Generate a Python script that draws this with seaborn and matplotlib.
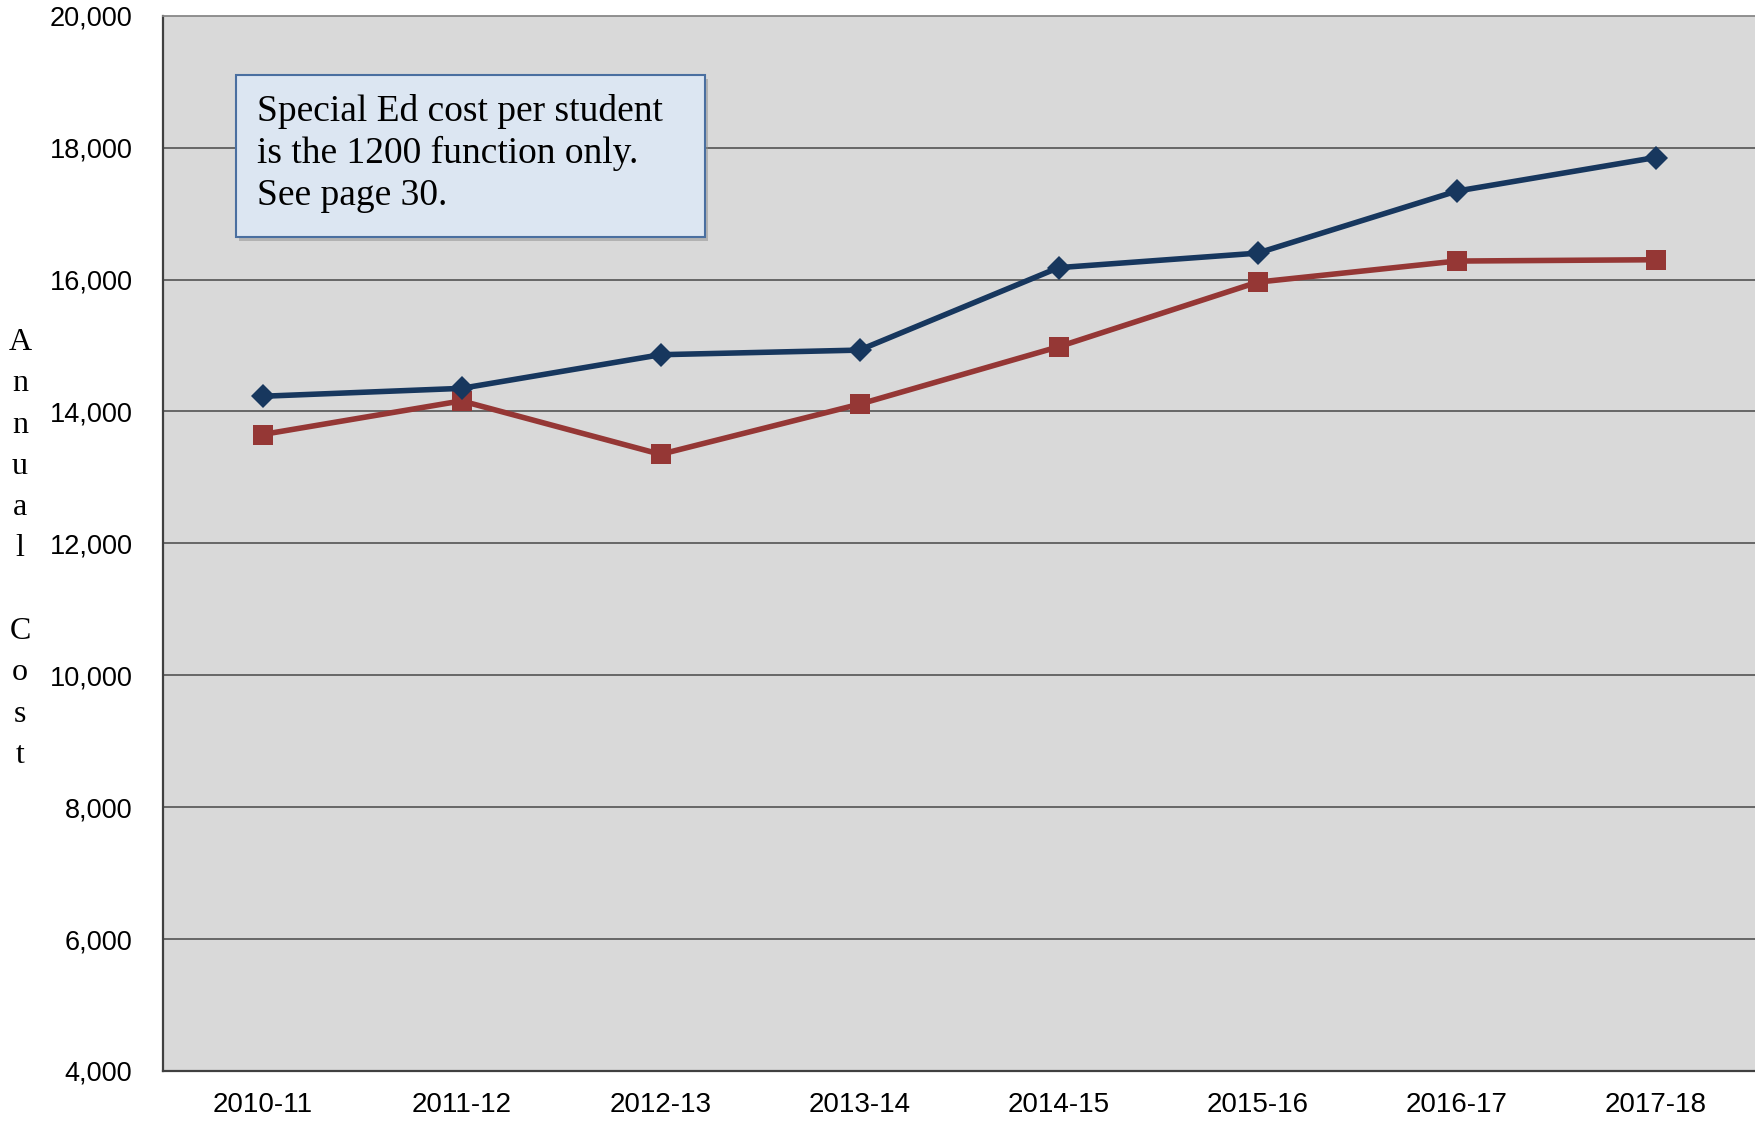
import matplotlib
matplotlib.use("Agg")
import matplotlib.pyplot as plt
import matplotlib.patches as mpatches
import matplotlib.ticker as mticker
import seaborn as sns
import pandas as pd

years = ["2010-11", "2011-12", "2012-13", "2013-14", "2014-15", "2015-16", "2016-17", "2017-18"]
series_a = [14230, 14350, 14860, 14930, 16180, 16400, 17340, 17850]
series_b = [13650, 14160, 13350, 14110, 14980, 15960, 16280, 16300]
y_ticks = [4000, 6000, 8000, 10000, 12000, 14000, 16000, 18000, 20000]
note = "Special Ed cost per student\nis the 1200 function only.\nSee page 30."
ylabel = "Annual Cost"

sns.set_theme(style="white")
plt.rcParams['font.family'] = ['Liberation Sans', 'DejaVu Sans']

df = pd.DataFrame({
    "year": years * 2,
    "cost": series_a + series_b,
    "series": ["A"] * len(years) + ["B"] * len(years),
})

fig = plt.figure(figsize=(17.55, 11.23), dpi=100)
ax = fig.add_axes([163 / 1755, 1 - 1071 / 1123, 1 - 163 / 1755, (1071 - 15.7) / 1123])
ax.set_facecolor("#D9D9D9")

for yv in y_ticks[1:-1]:
    ax.axhline(yv, color="#5E5E5E", lw=1.3, zorder=1)

sns.lineplot(data=df[df.series == "A"], x="year", y="cost", ax=ax, color="#17375E",
             lw=4, marker="D", markersize=12.5, markeredgewidth=0, legend=False, zorder=4, sort=False)
sns.lineplot(data=df[df.series == "B"], x="year", y="cost", ax=ax, color="#953735",
             lw=4, marker="s", markersize=14.5, markeredgewidth=0, legend=False, zorder=3, sort=False)

ax.set_xlim(-0.5, len(years) - 0.5)
ax.set_ylim(4000, 20000)
ax.set_yticks(y_ticks)
ax.yaxis.set_major_formatter(mticker.FuncFormatter(lambda v, p: f"{int(v):,}"))
ax.tick_params(axis="y", length=0, pad=22, labelsize=19.5, labelcolor="black")
ax.tick_params(axis="x", length=0, pad=15, labelsize=20, labelcolor="black")
for lab in ax.get_xticklabels():
    lab.set_family(['Liberation Sans Narrow', 'Liberation Sans'])
ax.set_xlabel("")
ax.set_ylabel("")

for side in ["left", "bottom"]:
    ax.spines[side].set_color("#404040")
    ax.spines[side].set_linewidth(1.6)
ax.spines["top"].set_color("#888888")
ax.spines["top"].set_linewidth(1.3)
ax.spines["right"].set_visible(False)

# annotation box (figure pixel coords converted to fractions)
bx0, by0, bx1, by1 = 236 / 1755, 1 - 237 / 1123, 705 / 1755, 1 - 75 / 1123
shadow = mpatches.Rectangle((bx0 + 3 / 1755, by0 - 4 / 1123), bx1 - bx0, by1 - by0,
                            transform=fig.transFigure, facecolor="#8C8C8C", edgecolor="none",
                            alpha=0.5, zorder=5)
box = mpatches.Rectangle((bx0, by0), bx1 - bx0, by1 - by0, transform=fig.transFigure,
                         facecolor="#DCE6F2", edgecolor="#4A6FA0", linewidth=1.5, zorder=6)
fig.patches.extend([shadow, box])
fig.text(257 / 1755, 1 - 94 / 1123, note, ha="left", va="top", fontsize=27,
         family=['Liberation Serif', 'DejaVu Serif'], linespacing=1.27, color="black", zorder=7)

# stacked y label
stacked = "\n".join(["" if c == " " else c for c in ylabel])
fig.text(20 / 1755, 1 - 549 / 1123, stacked, ha="center", va="center", fontsize=23,
         family=['Liberation Serif', 'DejaVu Serif'], linespacing=1.56, color="black")

fig.savefig("out.png", dpi=100)
